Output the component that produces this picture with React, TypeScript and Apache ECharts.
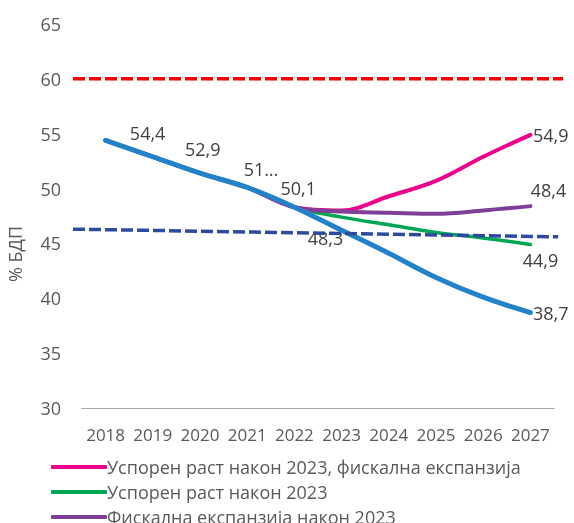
import React, { useEffect, useRef } from "react";
import * as echarts from "echarts";

const years = ["2018", "2019", "2020", "2021", "2022", "2023", "2024", "2025", "2026", "2027"];
const yTicks = [30, 35, 40, 45, 50, 55, 60, 65];

const pinkName = "Успорен раст након 2023, фискална експанзија";
const greenName = "Успорен раст након 2023";
const purpleName = "Фискална експанзија након 2023";
const blueName = "Основни сценарио";

const pinkValues = [54.4, 52.9, 51.4, 50.1, 48.3, 48.0, 49.3, 50.7, 52.9, 54.9];
const greenValues = [54.4, 52.9, 51.4, 50.1, 48.3, 47.4, 46.7, 46.0, 45.5, 44.9];
const purpleValues = [54.4, 52.9, 51.4, 50.1, 48.3, 47.9, 47.8, 47.7, 48.0, 48.4];
const blueValues = [54.4, 52.9, 51.4, 50.1, 48.3, 46.2, 44.1, 41.9, 40.1, 38.7];

const limitValue = 60;
const trendStart = 46.3;
const trendEnd = 45.6;

const FONT = "'Open Sans', sans-serif";
const TXT = "#404040";
const AXT = "#595959";

const fmt = (v: number) => String(v).replace(".", ",");

export default function App() {
  const ref = useRef<HTMLDivElement>(null);
  useEffect(() => {
    if (!ref.current) return;
    const chart = echarts.init(ref.current, undefined, { renderer: "svg" });

    const labelStyle = { color: TXT, fontSize: 18, fontFamily: FONT };
    const blueOffsets: Record<number, [number, number]> = {
      0: [42, -7],
      1: [50, -8],
      2: [61, -4],
      3: [51, 1],
      4: [31, 31],
    };
    const blueData = blueValues.map((v, i) => {
      if (blueOffsets[i]) {
        return {
          value: v,
          label: {
            show: true,
            position: "inside",
            offset: blueOffsets[i],
            formatter: i === 2 ? "51…" : fmt(v),
            ...labelStyle,
          },
        };
      }
      if (i === blueValues.length - 1) {
        return { value: v, label: { show: true, position: "right", distance: 2, formatter: fmt(v), ...labelStyle } };
      }
      return { value: v };
    });
    const endOnly = (vals: number[], lab: any) =>
      vals.map((v, i) =>
        i === vals.length - 1
          ? { value: v, label: { show: true, formatter: fmt(v), ...labelStyle, ...lab } }
          : { value: v }
      );

    const baseLine = (name: string, color: string, width: number, data: any[], z: number) => ({
      name,
      type: "line",
      xAxisIndex: 0,
      yAxisIndex: 0,
      data,
      smooth: 0.35,
      symbol: "circle",
      symbolSize: 1,
      showSymbol: true,
      itemStyle: { color },
      lineStyle: { color, width, cap: "round" },
      emphasis: { disabled: true },
      z,
    });

    chart.setOption({
      animation: false,
      textStyle: { fontFamily: FONT },
      grid: [
        { left: 82, right: 20, top: 24, bottom: 115, containLabel: false },
        { left: 73, right: 11, top: 24, bottom: 115, containLabel: false },
      ],
      xAxis: [
        {
          type: "category",
          gridIndex: 0,
          data: years,
          boundaryGap: true,
          axisLine: { show: true, lineStyle: { color: "#a6a6a6", width: 1 } },
          axisTick: { show: false },
          axisLabel: { color: AXT, fontSize: 17, fontFamily: FONT, margin: 18, interval: 0 },
        },
        { type: "value", gridIndex: 1, min: 0, max: 1, show: false },
      ],
      yAxis: [
        {
          type: "value",
          gridIndex: 0,
          min: yTicks[0],
          max: yTicks[yTicks.length - 1],
          interval: 5,
          axisLine: { show: false },
          axisTick: { show: false },
          splitLine: { show: false },
          axisLabel: { color: AXT, fontSize: 18, fontFamily: FONT, margin: 21 },
        },
        { type: "value", gridIndex: 1, min: yTicks[0], max: yTicks[yTicks.length - 1], show: false },
      ],
      legend: {
        orient: "vertical",
        left: 46,
        top: 452,
        height: 200,
        itemWidth: 56,
        itemHeight: 4,
        itemGap: 5,
        icon: "roundRect",
        textStyle: { color: AXT, fontSize: 18, fontFamily: FONT, lineHeight: 20, padding: [0, 0, 0, -5] },
        data: [pinkName, greenName, purpleName],
        selectedMode: false,
      },
      graphic: [
        {
          type: "text",
          x: 15,
          y: 254,
          rotation: Math.PI / 2,
          style: { text: "% БДП", fill: AXT, font: `18px ${FONT}`, align: "center", verticalAlign: "middle" },
        },
      ],
      series: [
        {
          name: "limit",
          type: "line",
          xAxisIndex: 1,
          yAxisIndex: 1,
          data: [[0, limitValue], [1, limitValue]],
          symbol: "none",
          lineStyle: { color: "#ff0000", width: 3.5, type: [12, 4] },
          emphasis: { disabled: true },
          z: 2,
        },
        baseLine(pinkName, "#ec008c", 4, endOnly(pinkValues, { position: "right", distance: 2 }), 3),
        baseLine(greenName, "#00a651", 3.5, endOnly(greenValues, { position: "inside", offset: [10, 15] }), 4),
        baseLine(purpleName, "#7f3f98", 4, endOnly(purpleValues, { position: "inside", offset: [18, -16] }), 5),
        baseLine(blueName, "#2383c8", 5, blueData, 6),
        {
          name: "trend",
          type: "line",
          xAxisIndex: 1,
          yAxisIndex: 1,
          data: [[0, trendStart], [0.99, trendEnd]],
          symbol: "none",
          lineStyle: { color: "#2e4a9e", width: 3.5, type: [12, 4] },
          emphasis: { disabled: true },
          z: 7,
        },
      ],
    });
    return () => chart.dispose();
  }, []);
  return <div ref={ref} style={{ position: "fixed", left: 0, top: 0, width: 574, height: 523 }} />;
}
